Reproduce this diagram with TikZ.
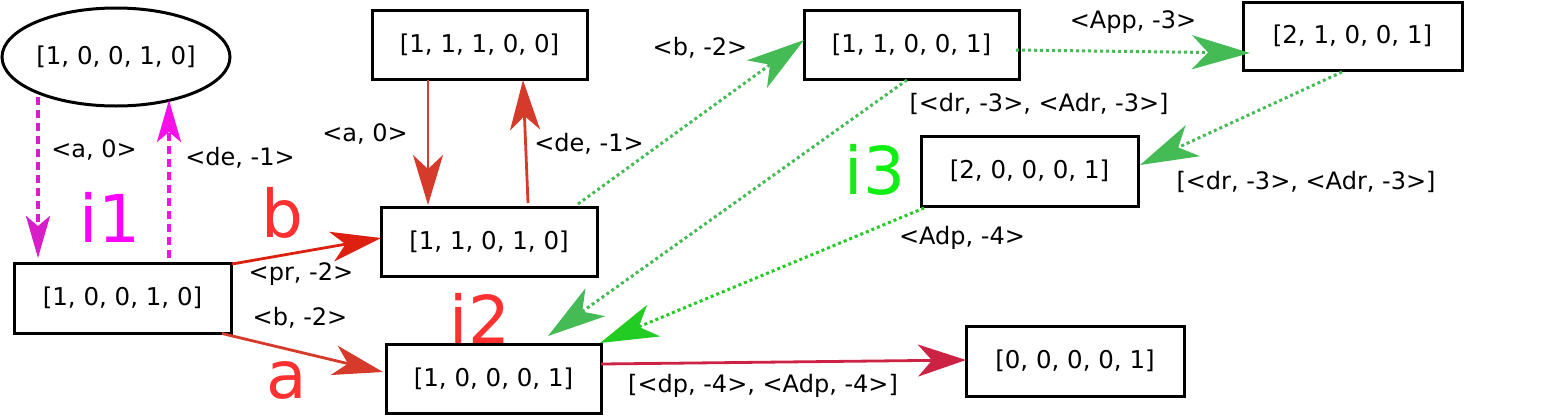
\documentclass[tikz,border=0pt]{standalone}
\usepackage{fontspec}
\setmainfont{DejaVu Sans}
\usetikzlibrary{shapes.geometric,arrows.meta,calc}
\definecolor{magA}{HTML}{D81EC8}
\definecolor{magB}{HTML}{F810E8}
\definecolor{redE}{HTML}{DD2010}
\definecolor{redF}{HTML}{D63A2A}
\definecolor{grnE}{HTML}{44BB55}
\definecolor{grnF}{HTML}{22CC22}
\definecolor{crim}{HTML}{CC2244}
\definecolor{bigred}{HTML}{FF3030}
\definecolor{bigmag}{HTML}{FF00FF}
\definecolor{biggrn}{HTML}{11EE11}
\begin{document}
\begin{tikzpicture}[x=1pt,y=-1pt,
  box/.style={draw,line width=3pt,minimum width=216pt,minimum height=69pt,inner sep=0pt,font=\fontsize{24.5}{24.5}\selectfont},
  oval/.style={draw,ellipse,line width=3pt,minimum width=228pt,minimum height=98pt,inner sep=0pt,font=\fontsize{24.5}{24.5}\selectfont},
  lab/.style={font=\fontsize{24}{24}\selectfont,inner sep=0pt},
  big/.style={font=\fontsize{66}{66}\selectfont,inner sep=0pt},
  magedge/.style={line width=4pt,dash pattern=on 8pt off 5pt,-{Stealth[length=42pt,width=24pt,inset=10pt]}},
  rededge/.style={line width=2.8pt,-{Stealth[length=50pt,width=30pt,inset=14pt]}},
  crimedge/.style={line width=2.8pt,-{Stealth[length=48pt,width=32pt,inset=14pt]}},
  grnedge/.style={line width=3pt,dash pattern=on 3pt off 3pt,-{Stealth[length=58pt,width=34pt,inset=16pt]}},
]
\useasboundingbox (0,0) rectangle (1545,416);
% nodes
\node[oval] (E) at (116,57) {[1, 0, 0, 1, 0]};
\node[box,minimum width=217pt,minimum height=70pt] (A) at (122.5,298) {[1, 0, 0, 1, 0]};
\node[box,minimum width=215pt] (B) at (479.5,44.5) {[1, 1, 1, 0, 0]};
\node[box] (C) at (489,241.5) {[1, 1, 0, 1, 0]};
\node[box,minimum width=215pt] (D) at (493.5,378.5) {[1, 0, 0, 0, 1]};
\node[box,minimum width=215pt] (F) at (911.5,44.5) {[1, 1, 0, 0, 1]};
\node[box,minimum width=219pt,minimum height=68pt] (G) at (1352.5,36) {[2, 1, 0, 0, 1]};
\node[box,minimum width=217pt,minimum height=70pt] (H) at (1029.5,171) {[2, 0, 0, 0, 1]};
\node[box,minimum width=218pt,minimum height=70pt] (I) at (1075,361) {[0, 0, 0, 0, 1]};
% edges
\draw[magedge,magA] ($(E.center)+(-78,40)$) -- ($(A.center)+(-84.5,-40)$);
\draw[magedge,magB] ($(A.center)+(46.5,-40)$) -- ($(E.center)+(53,43)$);
\draw[rededge,redE] ($(A.center)+(109.5,-34)$) -- ($(C.center)+(-108,-3.5)$);
\draw[rededge,redF] ($(A.center)+(99.5,35.5)$) -- ($(D.center)+(-110.5,-6.5)$);
\draw[rededge,redF] ($(B.center)+(-51.5,35.5)$) -- ($(C.center)+(-61,-36.5)$);
\draw[rededge,redF] ($(C.center)+(39,-38.5)$) -- ($(B.center)+(43.5,35.5)$);
\draw[grnedge,grnE] ($(C.center)+(89,-37.5)$) -- ($(F.center)+(-107.5,-4.5)$);
\draw[grnedge,grnE] ($(F.center)+(104.5,5.5)$) -- ($(G.center)+(-102.5,17)$);
\draw[grnedge,grnE] ($(F.center)+(-4.5,35.5)$) -- ($(D.center)+(54.5,-42.5)$);
\draw[grnedge,grnE] ($(G.center)+(-10.5,36)$) -- ($(H.center)+(110.5,-6)$);
\draw[grnedge,grnF] ($(H.center)+(-105.5,37)$) -- ($(D.center)+(106.5,-35.5)$);
\draw[crimedge,crim] ($(D.center)+(107.5,-14.5)$) -- ($(I.center)+(-109,-1)$);
% edge labels
\node[lab] (l1) at (94,150) {<a, 0>};
\node[lab] (l2) at (240,158) {<de, -1>};
\node[lab] (l3) at (301,274) {<pr, -2>};
\node[lab] (l4) at (300,318) {<b, -2>};
\node[lab] (l5) at (365,134) {<a, 0>};
\node[lab] (l6) at (589,144) {<de, -1>};
\node[lab] (l7) at (700,48) {<b, -2>};
\node[lab] (l8) at (1133,22) {<App, -3>};
\node[lab] (l9) at (1039,104) {[<dr, -3>, <Adr, -3>]};
\node[lab] (l10) at (1306,182) {[<dr, -3>, <Adr, -3>]};
\node[lab] (l11) at (962,238) {<Adp, -4>};
\node[lab] (l12) at (763,386) {[<dp, -4>, <Adp, -4>]};
% big labels
\node[big,bigmag] (i1) at (110,217) {i1};
\node[big,bigred] (bb) at (282,213) {b};
\node[big,bigred] (aa) at (287,380) {a};
\node[big,bigred] (i2) at (480,318) {i2};
\node[big,biggrn] (i3) at (875,170) {i3};
\end{tikzpicture}
\end{document}
